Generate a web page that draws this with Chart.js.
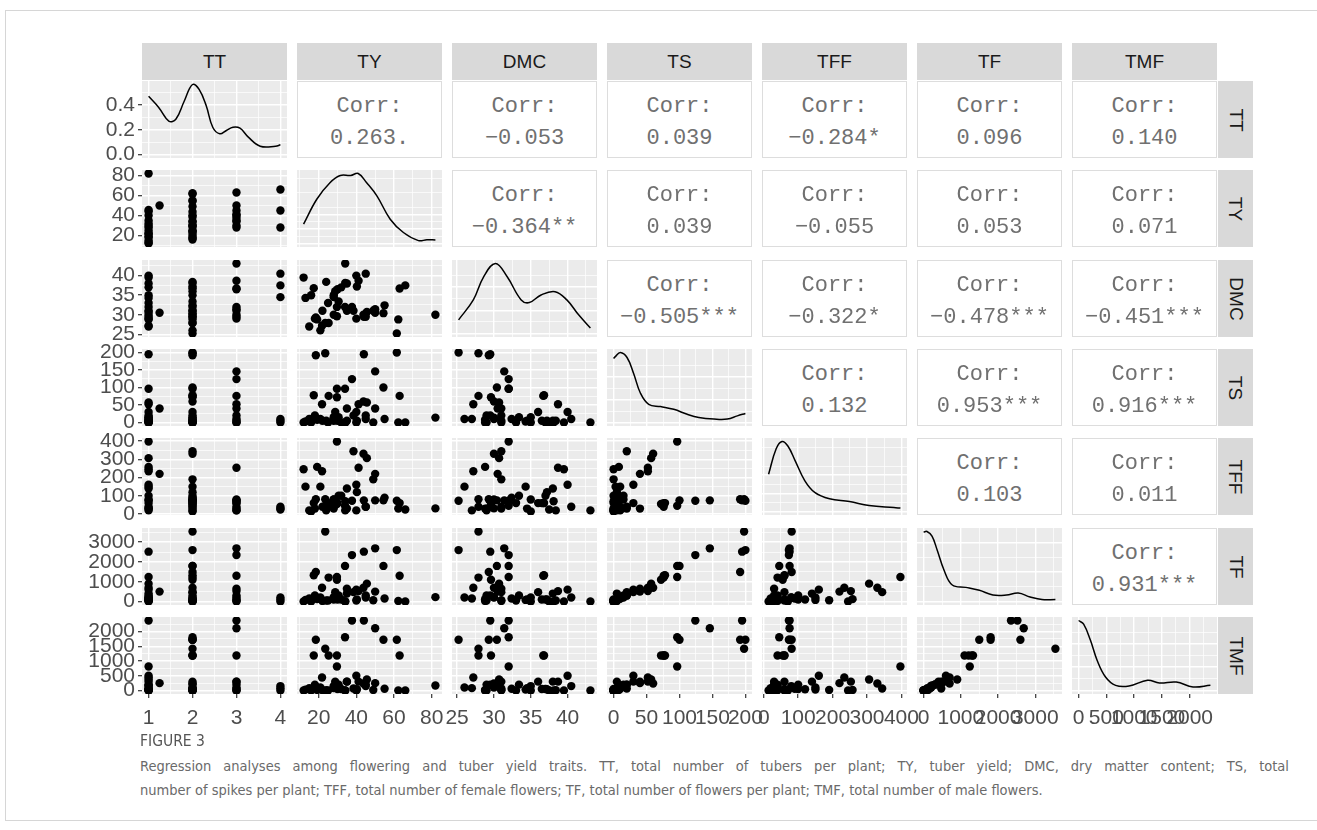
<!DOCTYPE html>
<html>
<head>
<meta charset="utf-8">
<script src="https://cdn.jsdelivr.net/npm/chart.js"></script>
<style>
  body { margin: 0; background: #fff; width: 1317px; height: 830px; overflow: hidden; position: relative; font-family: "Liberation Sans", Arial, sans-serif; }
  .frame { position: absolute; left: 5px; top: 10px; width: 1340px; height: 809px; border: 1px solid #d6d6d6; border-right: none; }
  canvas { position: absolute; }
  .strip { position: absolute; background: #d9d9d9; color: #1a1a1a; font-size: 19px; display: flex; align-items: center; justify-content: center; }
  .strip.right span { display: inline-block; transform: rotate(90deg); white-space: nowrap; }
  .corr { position: absolute; background: #fff; border: 1px solid #dddddd; box-sizing: border-box; font-family: "Liberation Mono", "Courier New", monospace; color: #707070; font-size: 22px; }
  .corr div { position: absolute; left: 0; right: 0; text-align: center; line-height: 22px; }
  .figlabel { position: absolute; left: 140px; top: 732px; font-family: "Liberation Sans Narrow", "DejaVu Sans Condensed", sans-serif; font-size: 15.5px; color: #555; }
  .cap { position: absolute; left: 140px; font-family: "Liberation Sans Narrow", "DejaVu Sans Condensed", sans-serif; font-size: 14.5px; line-height: 20px; color: #6a6a6a; white-space: nowrap; }
  .cap.first { width: 1149px; text-align: justify; text-align-last: justify; white-space: normal; }
</style>
</head>
<body>
<div class="frame"></div>
<div id="grid"></div>
<div class="figlabel">FIGURE 3</div>
<div class="cap first" style="top:756px">Regression analyses among flowering and tuber yield traits. TT, total number of tubers per plant; TY, tuber yield; DMC, dry matter content; TS, total</div>
<div class="cap" style="top:780px">number of spikes per plant; TFF, total number of female flowers; TF, total number of flowers per plant; TMF, total number of male flowers.</div>
<script>
Chart.defaults.font.family = 'Liberation Sans';
Chart.defaults.font.size = 21;

const names = ['TT', 'TY', 'DMC', 'TS', 'TFF', 'TF', 'TMF'];

// one entry per plant (50 genotypes)
const TT  = [1, 1, 1, 1, 1, 1, 1, 1, 1, 1, 1, 1, 1, 1, 1, 1, 1.25, 2, 2, 2, 2, 2, 2, 2, 2, 2, 2, 2, 2, 2, 2, 2, 2, 2, 2, 2, 2, 3, 3, 3, 3, 3, 3, 3, 3, 3, 3, 4, 4, 4];
const TY  = [44, 29.7, 82, 45.6, 21.8, 19.2, 40, 35, 32, 28, 25, 22, 18, 15, 12, 13, 50, 23.5, 61.5, 18.5, 34, 54.4, 25.3, 29.7, 17.4, 43.8, 38.5, 62.3, 55, 49, 40.3, 34.1, 30.6, 28.8, 24, 20.9, 16, 50, 37.7, 63, 41.2, 34.1, 45, 30, 28, 35, 40, 66, 45, 28];
const DMC = [29.5, 32, 30, 30.7, 27.2, 28.8, 40, 38, 37, 35, 33, 31, 29, 27, 39.5, 34.3, 30.5, 27.9, 25.2, 29.3, 32, 30.4, 27.9, 29.6, 36.8, 30, 31, 28.8, 32.4, 31, 37.2, 38.1, 33.4, 36, 38.4, 26, 35, 31.4, 32, 36.7, 38.7, 43.1, 29.5, 36.5, 30, 31, 29, 37.5, 40.5, 34.5];
const TS  = [195, 96.5, 14, 57, 52, 8, 30, 5, 0, 15, 0, 5, 20, 10, 0, 3, 40, 198, 200, 192, 96.5, 100, 76, 72, 78, 60, 20, 0, 10, 0, 5, 0, 15, 30, 5, 10, 0, 146, 124, 76, 52, 0, 20, 5, 10, 40, 0, 0, 10, 5];
const TFF = [75, 397, 31, 306, 234, 258, 160, 140, 100, 80, 60, 40, 30, 20, 245, 150, 220, 81, 73, 81, 45, 75, 40, 55, 60, 330, 344, 30, 90, 190, 120, 70, 100, 60, 20, 150, 14, 75, 73, 60, 253, 20, 40, 60, 80, 30, 20, 25, 40, 30];
const TF  = [2520, 1240, 220, 903, 699, 120, 600, 400, 100, 200, 50, 30, 300, 150, 0, 80, 500, 3540, 2600, 1495, 1800, 1800, 1209, 1100, 1327, 699, 474, 30, 150, 60, 100, 0, 300, 474, 50, 200, 0, 2689, 2347, 1300, 525, 0, 300, 100, 200, 648, 50, 0, 200, 100];
const TMF = [2373, 814, 170, 373, 441, 20, 500, 300, 50, 150, 0, 10, 200, 80, 0, 30, 250, 1414, 1719, 1719, 1807, 1719, 1186, 1186, 1186, 237, 68, 0, 60, 20, 40, 0, 200, 300, 10, 100, 0, 2112, 2373, 1186, 300, 0, 200, 50, 100, 300, 0, 0, 150, 80];
const columns = [TT, TY, DMC, TS, TFF, TF, TMF];

// correlation labels, upper triangle, row by row
const corrLabels = [
  ['0.263.', '\u22120.053', '0.039', '\u22120.284*', '0.096', '0.140'],
  ['\u22120.364**', '0.039', '\u22120.055', '0.053', '0.071'],
  ['\u22120.505***', '\u22120.322*', '\u22120.478***', '\u22120.451***'],
  ['0.132', '0.953***', '0.916***'],
  ['0.103', '0.011'],
  ['0.931***']
];

// axis breaks per variable
const majorTicks = [[1, 2, 3, 4], [20, 40, 60, 80], [25, 30, 35, 40], [0, 50, 100, 150, 200], [0, 100, 200, 300, 400], [0, 1000, 2000, 3000], [0, 500, 1000, 1500, 2000]];
const minorTicks = [[1.5, 2.5, 3.5], [10, 30, 50, 70], [27.5, 32.5, 37.5, 42.5], [25, 75, 125, 175], [50, 150, 250, 350], [500, 1500, 2500, 3500], [250, 750, 1250, 1750, 2250]];
const tickLabels = [['1', '2', '3', '4'], ['20', '40', '60', '80'], ['25', '30', '35', '40'], ['0', '50', '100', '150', '200'], ['0', '100', '200', '300', '400'], ['0', '1000', '2000', '3000'], ['0', '500', '1000', '1500', '2000']];

// kernel density curves on the diagonal (x, density)
const densX = [
  [1.0, 1.23, 1.46, 1.62, 1.81, 2.0, 2.15, 2.31, 2.46, 2.62, 2.77, 2.92, 3.08, 3.27, 3.54, 3.89, 4.0],
  [12, 19, 26, 31.5, 37, 41, 45.5, 51, 58, 65, 73, 77.5, 82],
  [25.2, 27.2, 28.6, 30.2, 31.8, 33.7, 34.8, 36.4, 38.3, 39.9, 41.5, 43.1],
  [0, 2.6, 10.2, 20.4, 30.4, 40.6, 53.3, 71.1, 91.3, 111.7, 129.4, 152.2, 172.6, 187.8, 200],
  [14, 36, 53, 70, 91, 119, 148, 191, 249, 306, 378, 397],
  [0, 90, 226, 362, 545, 771, 1136, 1499, 1861, 2226, 2542, 2861, 3180, 3540],
  [0, 91, 212, 333, 485, 667, 909, 1242, 1455, 1758, 2060, 2373]
];
const densY = [
  [0.47, 0.38, 0.27, 0.285, 0.43, 0.565, 0.525, 0.395, 0.22, 0.167, 0.194, 0.22, 0.212, 0.14, 0.067, 0.067, 0.078],
  [0.0067, 0.0153, 0.0210, 0.0235, 0.0235, 0.0242, 0.0210, 0.0164, 0.0084, 0.0038, 0.0010, 0.0013, 0.0012],
  [0.0177, 0.0435, 0.0734, 0.0906, 0.0734, 0.0435, 0.0400, 0.0499, 0.0541, 0.0435, 0.0242, 0.0071],
  [0.0141, 0.0145, 0.0154, 0.0143, 0.0108, 0.0065, 0.0040, 0.0035, 0.0029, 0.0018, 0.0011, 0.00075, 0.00075, 0.00146, 0.0020],
  [0.0041, 0.0069, 0.0077, 0.0072, 0.0056, 0.0034, 0.0021, 0.0014, 0.0011, 0.00065, 0.00043, 0.00038],
  [0.00118, 0.00119, 0.00111, 0.00088, 0.00054, 0.00028, 0.00024, 0.00019, 0.00011, 0.00011, 0.000145, 0.000077, 0.000032, 0.000032],
  [0.0015, 0.00142, 0.00108, 0.00065, 0.00029, 0.00011, 0.000096, 0.00022, 0.00016, 0.00018, 0.000075, 0.00011]
];
const densMajor = [[0, 0.2, 0.4], [0, 0.005, 0.01, 0.015, 0.02, 0.025], [0, 0.03, 0.06, 0.09], [0, 0.005, 0.01, 0.015], [0, 0.002, 0.004, 0.006, 0.008], [0, 0.0005, 0.001], [0, 0.0005, 0.001, 0.0015]];
const densMinor = [[0.1, 0.3, 0.5], [0.0025, 0.0075, 0.0125, 0.0175, 0.0225], [0.015, 0.045, 0.075], [0.0025, 0.0075, 0.0125], [0.001, 0.003, 0.005, 0.007], [0.00025, 0.00075], [0.00025, 0.00075, 0.00125]];
const densLabels = ['0.0', '0.2', '0.4'];

// layout of the 7 x 7 panel grid
const LEFT0 = 142, COLSTEP = 155, PW = 145, TOP0 = 81, ROWSTEP = 89.3, PH = 77;
const AXW = 72, AXH = 42, SIDE = 26, VPAD = 20;
const rowTop = r => Math.round(TOP0 + r * ROWSTEP);

function limitsOf(vals) {
  const lo = Math.min(...vals), hi = Math.max(...vals), pad = (hi - lo) * 0.05;
  return [lo - pad, hi + pad];
}

function scaleOpts(lim, major, minor, labels, labelled, size, isX) {
  const all = major.concat(minor).filter(v => v >= lim[0] && v <= lim[1]).sort((a, b) => a - b);
  return {
    type: 'linear', min: lim[0], max: lim[1],
    afterBuildTicks: s => { s.ticks = all.map(v => ({ value: v })); },
    afterFit: s => { if (isX) s.height = labelled ? size : 0; else s.width = labelled ? size : 0; },
    border: { display: false },
    grid: {
      color: '#ffffff',
      lineWidth: c => major.includes(c.tick && c.tick.value) ? 1.4 : 0.7,
      drawTicks: labelled, tickLength: 4, tickWidth: 1.2,
      tickColor: c => major.includes(c.tick && c.tick.value) ? '#333333' : 'rgba(0,0,0,0)'
    },
    ticks: {
      display: labelled, autoSkip: false, maxRotation: 0, minRotation: 0, padding: isX ? 8 : 3,
      color: '#4d4d4d', font: { family: 'Liberation Sans', size: 21 },
      callback: v => { const k = major.indexOf(v); return k >= 0 ? labels[k] : ''; }
    }
  };
}

const panelBg = {
  id: 'panelBg',
  beforeDraw(chart) {
    const a = chart.chartArea, ctx = chart.ctx;
    ctx.save(); ctx.fillStyle = '#ebebeb'; ctx.fillRect(a.left, a.top, a.right - a.left, a.bottom - a.top); ctx.restore();
  }
};

const host = document.getElementById('grid');
const lims = columns.map(limitsOf);

names.forEach((n, c) => {
  const s = document.createElement('div');
  s.className = 'strip';
  s.style.cssText = `left:${LEFT0 + c * COLSTEP}px;top:43px;width:${PW}px;height:37px;`;
  s.textContent = n;
  host.appendChild(s);
  const rs = document.createElement('div');
  rs.className = 'strip right';
  rs.style.cssText = `left:1218px;top:${rowTop(c)}px;width:35px;height:${PH}px;`;
  rs.innerHTML = `<span>${n}</span>`;
  host.appendChild(rs);
});

for (let r = 0; r < 7; r++) {
  for (let c = 0; c < 7; c++) {
    const left = LEFT0 + c * COLSTEP, top = rowTop(r);
    if (c > r) {
      const box = document.createElement('div');
      box.className = 'corr';
      box.style.cssText = `left:${left}px;top:${top}px;width:${PW}px;height:${PH}px;`;
      box.innerHTML = `<div style="top:${Math.round(PH * 0.32) - 11}px">Corr:</div><div style="top:${Math.round(PH * 0.74) - 11}px">${corrLabels[r][c - r - 1]}</div>`;
      host.appendChild(box);
      continue;
    }
    const exL = c === 0 ? AXW : 0, exB = r === 6 ? AXH : 0;
    const padL = (r === 6 && c > 0) ? SIDE : 0, padR = r === 6 ? SIDE : 0;
    const padT = c === 0 ? VPAD : 0, padB = (c === 0 && r < 6) ? VPAD : 0;
    const cv = document.createElement('canvas');
    cv.width = PW + exL + padL + padR; cv.height = PH + exB + padT + padB;
    cv.style.left = (left - exL - padL) + 'px'; cv.style.top = (top - padT) + 'px';
    host.appendChild(cv);

    const xs = scaleOpts(lims[c], majorTicks[c], minorTicks[c], tickLabels[c], r === 6, AXH, true);
    let ys, dataset;
    if (r === c) {
      const pts = densX[c].map((x, i) => ({ x, y: densY[c][i] }));
      const dmax = Math.max(...densY[c]);
      ys = scaleOpts([-0.05 * dmax, 1.05 * dmax], densMajor[c], densMinor[c], densLabels, c === 0, AXW, false);
      dataset = { data: pts, showLine: true, pointRadius: 0, borderColor: '#000', borderWidth: 1.5, tension: 0.4, fill: false, clip: 0 };
    } else {
      const pts = columns[c].map((x, i) => ({ x, y: columns[r][i] }));
      ys = scaleOpts(lims[r], majorTicks[r], minorTicks[r], tickLabels[r], c === 0, AXW, false);
      dataset = { data: pts, pointRadius: 4.2, pointHoverRadius: 4.2, backgroundColor: '#000', borderWidth: 0, clip: 0 };
    }
    new Chart(cv, {
      type: 'scatter',
      data: { datasets: [dataset] },
      options: {
        responsive: false, animation: false, devicePixelRatio: 1,
        layout: { padding: { left: padL, right: padR, top: padT, bottom: padB }, autoPadding: false },
        plugins: { legend: { display: false }, tooltip: { enabled: false } },
        events: [],
        scales: { x: xs, y: ys }
      },
      plugins: [panelBg]
    });
  }
}
</script>
</body>
</html>
